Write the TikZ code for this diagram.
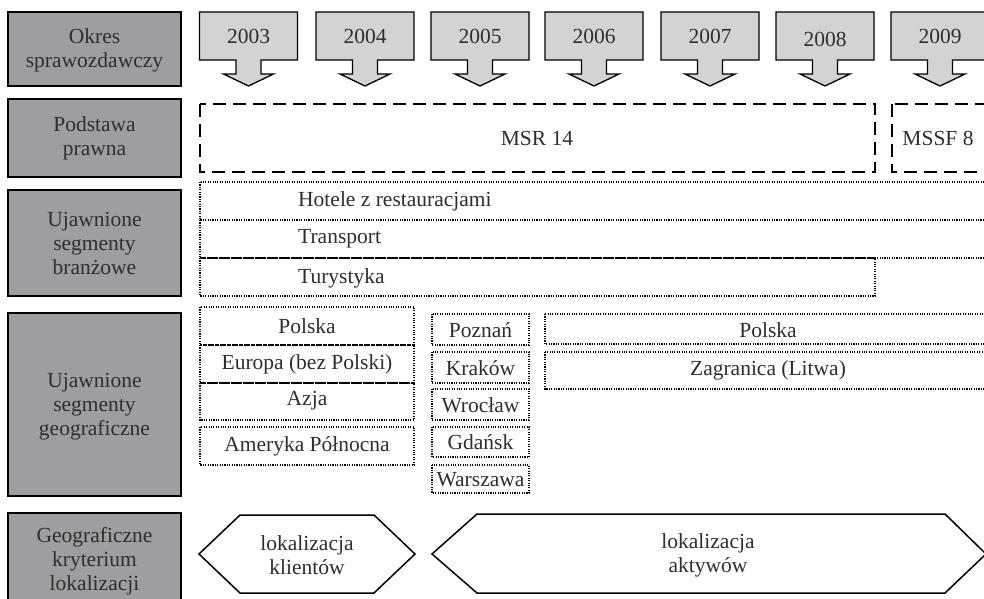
\documentclass[tikz,border=0pt]{standalone}
\usepackage{fontspec}
\setmainfont{Liberation Serif}
\definecolor{txtc}{HTML}{2E2E2E}
\definecolor{darkbox}{HTML}{9C9EA2}
\definecolor{lightbox}{HTML}{D2D3D5}
\tikzset{
  txt/.style={font=\fontsize{21.5}{24}\selectfont, text=txtc, align=center, inner sep=0pt},
  lbl/.style={draw=black, line width=1.6pt, fill=darkbox},
  yearbox/.style={draw=black, line width=1.3pt, fill=lightbox},
  dashbox/.style={draw=black, line width=2pt, dash pattern=on 13pt off 7pt},
  dotbox/.style={draw=black, line width=1.1pt, dash pattern=on 1.1pt off 1.3pt},
  hexbox/.style={draw=black, line width=1.5pt, fill=white},
}
\newcommand\yeararrow[3]{%
  \draw[yearbox] (#1-49,12) -- (#1+49,12) -- (#1+49,60) -- (#1+12.5,60) -- (#1+12.5,74) -- (#1+25,74) -- (#1,86) -- (#1-25,74) -- (#1-12.5,74) -- (#1-12.5,60) -- (#1-49,60) -- cycle;
  \node[txt] (y#2) at (#1,#3) {#2};}
\begin{document}
\begin{tikzpicture}[x=1pt,y=-1pt]
\useasboundingbox (0,0) rectangle (984,598);
\clip (0,0) rectangle (984,598);
\fill[white] (0,0) rectangle (984,598);
% left labels
\draw[lbl] (8,12) rectangle (181,86);
\node[txt] (l1) at (94.5,50) {Okres\\sprawozdawczy};
\draw[lbl] (8,99) rectangle (181,177);
\node[txt] (l2) at (94.5,138) {Podstawa\\prawna};
\draw[lbl] (8,190) rectangle (181,296);
\node[txt] (l3) at (94.5,243) {Ujawnione\\segmenty\\branżowe};
\draw[lbl] (8,313) rectangle (181,496);
\node[txt] (l4) at (94.5,407) {Ujawnione\\segmenty\\geograficzne};
\draw[lbl] (8,513) rectangle (181,604);
\node[txt] (l5) at (94.5,561) {Geograficzne\\kryterium\\lokalizacji};
% years
\yeararrow{248.5}{2003}{36}
\yeararrow{365}{2004}{36}
\yeararrow{480}{2005}{36}
\yeararrow{594}{2006}{36}
\yeararrow{710}{2007}{36}
\yeararrow{825}{2008}{39}
\yeararrow{940}{2009}{36}
% legal basis
\draw[dashbox] (200,104) rectangle (875,172);
\node[txt] (msr) at (537,138) {MSR 14};
\draw[dashbox] (892,104) rectangle (992,172);
\node[txt] (mssf) at (938,138) {MSSF 8};
% industry segments
\draw[dotbox] (200,182) rectangle (992,220);
\draw[dotbox] (200,220) rectangle (992,258);
\draw[dotbox] (200,258) rectangle (875,296);
\node[txt, anchor=west] (hot) at (298,201) {Hotele z restauracjami};
\node[txt, anchor=west] (tra) at (298,239) {Transport};
\node[txt, anchor=west] (tur) at (298,278) {Turystyka};
% geographic segments, left
\draw[dotbox] (200,307) rectangle (414,345);
\node[txt] (gpl) at (307,326) {Polska};
\draw[dotbox] (200,345) rectangle (414,383);
\node[txt] (geu) at (307,364) {Europa (bez Polski)};
\draw[dotbox] (200,383) rectangle (414,420);
\node[txt] (gaz) at (307,401) {Azja};
\draw[dotbox] (200,427) rectangle (414,465);
\node[txt] (gam) at (307,446) {Ameryka Północna};
% cities
\draw[dotbox] (432,314) rectangle (529,345);
\node[txt] (cpo) at (480.5,330) {Poznań};
\draw[dotbox] (432,352) rectangle (529,383);
\node[txt] (ckr) at (480.5,368) {Kraków};
\draw[dotbox] (432,389) rectangle (529,420);
\node[txt] (cwr) at (480.5,405) {Wrocław};
\draw[dotbox] (432,427) rectangle (529,457);
\node[txt] (cgd) at (480.5,442) {Gdańsk};
\draw[dotbox] (432,465) rectangle (529,493);
\node[txt] (cwa) at (480.5,480) {Warszawa};
% right geographic
\draw[dotbox] (545,314) rectangle (992,344);
\node[txt] (rpl) at (768,330) {Polska};
\draw[dotbox] (545,352) rectangle (992,389);
\node[txt] (rza) at (768,370) {Zagranica (Litwa)};
% hexagons
\draw[hexbox] (199,554) -- (240,515) -- (374,515) -- (415,554) -- (374,593) -- (240,593) -- cycle;
\node[txt] (hk) at (307,555) {lokalizacja\\klientów};
\draw[hexbox] (432,554) -- (477,514) -- (945,514) -- (986,554) -- (945,593) -- (477,593) -- cycle;
\node[txt] (ha) at (708,555) {lokalizacja\\aktywów};
\end{tikzpicture}
\end{document}
